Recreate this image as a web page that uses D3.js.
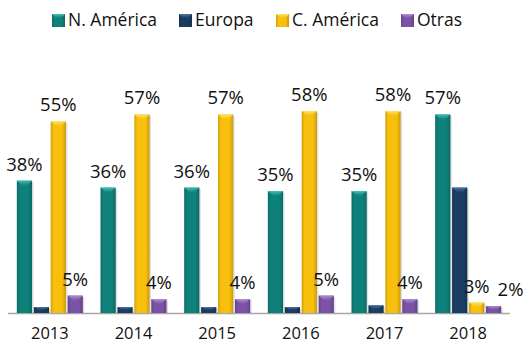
<!DOCTYPE html>
<html>
<head>
<meta charset="utf-8">
<script src="https://cdn.jsdelivr.net/npm/d3@7"></script>
<style>
  html, body { margin: 0; padding: 0; background: #fff; }
  svg { display: block; }
  text { font-family: "Open Sans", "Liberation Sans", sans-serif; fill: #111; }
</style>
</head>
<body>
<svg id="chart" width="523" height="354"></svg>
<script>
// Export share by destination, per year (%)
const years = ["2013", "2014", "2015", "2016", "2017", "2018"];
const seriesNames = ["N. América", "Europa", "C. América", "Otras"];
const nAmerica = [38, 36, 36, 35, 35, 57];
const europa   = [1.7, 1.7, 1.7, 1.7, 2.2, 36];
const cAmerica = [55, 57, 57, 58, 58, 3];
const otras    = [5, 4, 4, 5, 4, 2];
// which series get a value label
const labelled = [true, false, true, true];

const seriesValues = [nAmerica, europa, cAmerica, otras];
const colors = ["#0e817b", "#1b3d63", "#f8bf0c", "#7b52a7"];
const lightColors = ["#45c3bb", "#4f77a3", "#fde56a", "#b393d6"];

const svg = d3.select("#chart");
const left = 8, right = 510, baseY = 313;

const x0 = d3.scaleBand().domain(years).range([left, right]).paddingInner(0.211).paddingOuter(0.1055);
const x1 = d3.scaleBand().domain(seriesNames).range([0, x0.bandwidth()]).paddingInner(0.1);
const y = d3.scaleLinear().domain([0, 60]).range([baseY, 104]);

// gradients for the bevelled bar look
const defs = svg.append("defs");
seriesNames.forEach((s, i) => {
  const g = defs.append("linearGradient").attr("id", "grad" + i)
    .attr("x1", "0%").attr("x2", "100%").attr("y1", "0%").attr("y2", "0%");
  const base = d3.color(colors[i]);
  g.append("stop").attr("offset", "0%").attr("stop-color", base.darker(0.5));
  g.append("stop").attr("offset", "20%").attr("stop-color", base);
  g.append("stop").attr("offset", "75%").attr("stop-color", base);
  g.append("stop").attr("offset", "100%").attr("stop-color", base.darker(0.6));
  const t = defs.append("linearGradient").attr("id", "cap" + i)
    .attr("x1", "0%").attr("x2", "0%").attr("y1", "0%").attr("y2", "100%");
  t.append("stop").attr("offset", "0%").attr("stop-color", lightColors[i]);
  t.append("stop").attr("offset", "100%").attr("stop-color", colors[i]);
});

// flat rows for drawing
const rows = [];
years.forEach((yr, j) => {
  seriesNames.forEach((s, i) => {
    rows.push({ year: yr, series: s, si: i, value: seriesValues[i][j] });
  });
});

// axis baseline
svg.append("line")
  .attr("x1", left).attr("x2", right)
  .attr("y1", baseY + 0.5).attr("y2", baseY + 0.5)
  .attr("stroke", "#a6a6a6").attr("stroke-width", 1.5);

const bars = svg.append("g").selectAll("g").data(rows).join("g")
  .attr("transform", d => `translate(${x0(d.year) + x1(d.series)},0)`);

const bw = x1.bandwidth();

// soft shadow on the right side
bars.append("rect")
  .attr("x", 1.5).attr("width", bw)
  .attr("y", d => y(d.value) + 1.5)
  .attr("height", d => baseY - y(d.value) - 1.5)
  .attr("fill", "#000").attr("opacity", 0.12);

bars.append("rect")
  .attr("x", 0).attr("width", bw)
  .attr("y", d => y(d.value))
  .attr("height", d => baseY - y(d.value))
  .attr("fill", d => `url(#grad${d.si})`);

// bevelled top cap
bars.append("path")
  .attr("d", d => {
    const top = y(d.value);
    const h = Math.min(5, (baseY - top) / 2);
    return `M0,${top} L${bw},${top} L${bw * 0.62},${top + h} L${bw * 0.38},${top + h} Z`;
  })
  .attr("fill", d => `url(#cap${d.si})`)
  .attr("opacity", 0.9);

// value labels, nudged right when they collide with a neighbour
const labelRows = rows.filter(d => labelled[d.si]);
const labels = svg.append("g").selectAll("text").data(labelRows).join("text")
  .attr("text-anchor", "middle")
  .attr("font-size", 18.5)
  .attr("x", d => x0(d.year) + x1(d.series) + bw / 2)
  .attr("y", d => y(d.value) - 10)
  .text(d => d3.format("d")(d.value) + "%");

const boxes = [];
labels.each(function () {
  const b = this.getBBox();
  boxes.push({ node: this, x: b.x, y: b.y, w: b.width, h: b.height });
});
for (let i = 1; i < boxes.length; i++) {
  const a = boxes[i - 1], b = boxes[i];
  const vOverlap = !(b.y > a.y + a.h || a.y > b.y + b.h);
  if (vOverlap && b.x < a.x + a.w + 2) {
    const shift = a.x + a.w + 8 - b.x;
    b.x += shift;
    const n = d3.select(b.node);
    n.attr("x", +n.attr("x") + shift);
  }
}

// year labels
svg.append("g").selectAll("text").data(years).join("text")
  .attr("text-anchor", "middle")
  .attr("font-size", 16.5)
  .attr("x", d => x0(d) + x0.bandwidth() / 2)
  .attr("y", 339)
  .text(d => d);

// legend
const legendX = [52, 179, 276, 401];
const legend = svg.append("g").selectAll("g").data(seriesNames).join("g")
  .attr("transform", (d, i) => `translate(${legendX[i]},0)`);
legend.append("rect")
  .attr("x", 0).attr("y", 14).attr("width", 13).attr("height", 13)
  .attr("fill", (d, i) => `url(#grad${i})`);
legend.append("path")
  .attr("d", "M0,14 L13,14 L9,18 L4,18 Z")
  .attr("fill", (d, i) => `url(#cap${i})`);
legend.append("text")
  .attr("x", 16).attr("y", 26)
  .attr("font-size", 17.5)
  .text(d => d);
</script>
</body>
</html>
